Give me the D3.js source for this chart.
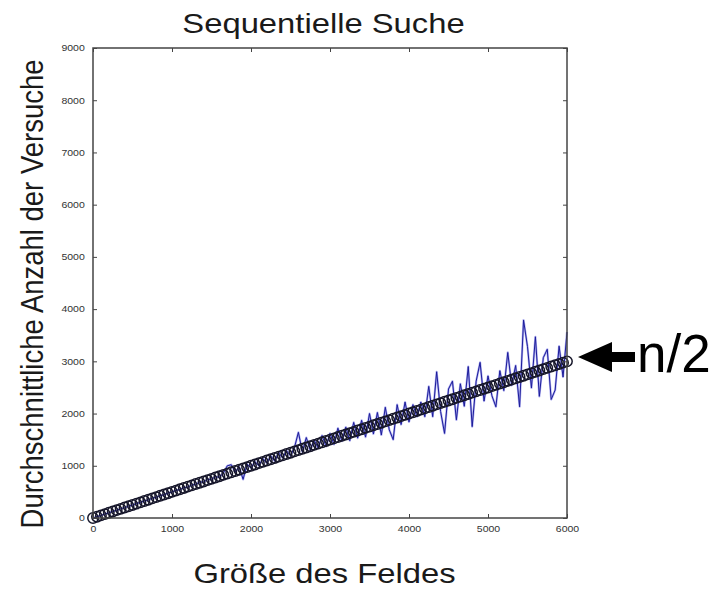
<!DOCTYPE html>
<html>
<head>
<meta charset="utf-8">
<script src="https://cdn.jsdelivr.net/npm/d3@7/dist/d3.min.js"></script>
<style>
  html, body { margin: 0; padding: 0; background: #fff; }
  svg { display: block; }
  text { font-family: "Liberation Sans", Arial, Helvetica, sans-serif; }
</style>
</head>
<body>
<svg id="chart" width="721" height="590"></svg>
<script>
// ---- data ----
const chartTitle = "Sequentielle Suche";
const xLabel = "Größe des Feldes";
const yLabel = "Durchschnittliche Anzahl der Versuche";
const annotation = "n/2";

const xTicks = [0, 1000, 2000, 3000, 4000, 5000, 6000];
const yTicks = [0, 1000, 2000, 3000, 4000, 5000, 6000, 7000, 8000, 9000];

// field sizes (n)
const sizes = [
  0, 50, 100, 150, 200, 250, 300, 350, 400, 450,
  500, 550, 600, 650, 700, 750, 800, 850, 900, 950,
  1000, 1050, 1100, 1150, 1200, 1250, 1300, 1350, 1400, 1450,
  1500, 1550, 1600, 1650, 1700, 1750, 1800, 1850, 1900, 1950,
  2000, 2050, 2100, 2150, 2200, 2250, 2300, 2350, 2400, 2450,
  2500, 2550, 2600, 2650, 2700, 2750, 2800, 2850, 2900, 2950,
  3000, 3050, 3100, 3150, 3200, 3250, 3300, 3350, 3400, 3450,
  3500, 3550, 3600, 3650, 3700, 3750, 3800, 3850, 3900, 3950,
  4000, 4050, 4100, 4150, 4200, 4250, 4300, 4350, 4400, 4450,
  4500, 4550, 4600, 4650, 4700, 4750, 4800, 4850, 4900, 4950,
  5000, 5050, 5100, 5150, 5200, 5250, 5300, 5350, 5400, 5450,
  5500, 5550, 5600, 5650, 5700, 5750, 5800, 5850, 5900, 5950,
  6000
];

// measured average number of attempts (blue line)
const avgTries = [
  1, 27, 48, 78, 98, 128, 147, 178, 196, 228,
  246, 279, 297, 328, 345, 380, 396, 430, 443, 480,
  497, 531, 542, 583, 590, 632, 645, 688, 690, 738,
  743, 790, 780, 860, 1000, 1020, 880, 980, 740, 1030,
  960, 1080, 1000, 1140, 1050, 1190, 1090, 1250, 1150, 1290,
  1190, 1350, 1640, 1270, 1540, 1300, 1490, 1340, 1580, 1370,
  1620, 1410, 1720, 1470, 1740, 1480, 1830, 1530, 1870, 1550,
  2000, 1610, 2020, 1590, 2120, 1690, 1500, 2170, 1790, 2220,
  1840, 2170, 1940, 2220, 1940, 2520, 1940, 2800, 2040, 1620,
  2470, 2620, 1880, 2570, 2140, 2900, 1750, 2620, 2980, 2240,
  2720, 2340, 2130, 2820, 2440, 3170, 2540, 2920, 2130, 3790,
  3280, 2490, 3470, 2330, 3070, 3230, 2270, 2450, 3290, 2700,
  3560
];

// reference line n/2 (drawn as open circle markers)
const halfN = [
  0, 25, 50, 75, 100, 125, 150, 175, 200, 225,
  250, 275, 300, 325, 350, 375, 400, 425, 450, 475,
  500, 525, 550, 575, 600, 625, 650, 675, 700, 725,
  750, 775, 800, 825, 850, 875, 900, 925, 950, 975,
  1000, 1025, 1050, 1075, 1100, 1125, 1150, 1175, 1200, 1225,
  1250, 1275, 1300, 1325, 1350, 1375, 1400, 1425, 1450, 1475,
  1500, 1525, 1550, 1575, 1600, 1625, 1650, 1675, 1700, 1725,
  1750, 1775, 1800, 1825, 1850, 1875, 1900, 1925, 1950, 1975,
  2000, 2025, 2050, 2075, 2100, 2125, 2150, 2175, 2200, 2225,
  2250, 2275, 2300, 2325, 2350, 2375, 2400, 2425, 2450, 2475,
  2500, 2525, 2550, 2575, 2600, 2625, 2650, 2675, 2700, 2725,
  2750, 2775, 2800, 2825, 2850, 2875, 2900, 2925, 2950, 2975,
  3000
];

// ---- layout ----
const plot = { left: 93, top: 48, right: 567, bottom: 518 };
const SX = 1.17; // horizontal stretch of the original picture

const svg = d3.select("#chart");

const x = d3.scaleLinear().domain([0, 6000]).range([plot.left, plot.right]);
const y = d3.scaleLinear().domain([0, 9000]).range([plot.bottom, plot.top]);

// blue measured line
const line = d3.line().x(d => x(d[0])).y(d => y(d[1]));
const blueData = sizes.map((n, i) => [n, avgTries[i]]);
svg.append("path")
  .datum(blueData)
  .attr("d", line)
  .attr("fill", "none")
  .attr("stroke", "#7a7ae6")
  .attr("stroke-width", 2.2)
  .attr("stroke-opacity", 0.6)
  .attr("stroke-linejoin", "round");
svg.append("path")
  .datum(blueData)
  .attr("d", line)
  .attr("fill", "none")
  .attr("stroke", "#1c1c9a")
  .attr("stroke-width", 1)
  .attr("stroke-linejoin", "round");

// n/2 markers
svg.append("g")
  .selectAll("circle")
  .data(sizes.map((n, i) => [n, halfN[i]]))
  .join("circle")
  .attr("cx", d => x(d[0]))
  .attr("cy", d => y(d[1]))
  .attr("r", 5.2)
  .attr("fill", "none")
  .attr("stroke", "#16162a")
  .attr("stroke-width", 1.5);

// axes (inward ticks, all sides)
function styleAxis(g) {
  g.select(".domain").remove();
  g.selectAll(".tick line").attr("stroke", "#444").attr("stroke-width", 1);
  g.selectAll(".tick text")
    .attr("fill", "#333")
    .style("font-size", "9px");
}

const gx = svg.append("g")
  .attr("transform", `translate(0,${plot.bottom})`)
  .call(d3.axisBottom(x).tickValues(xTicks).tickSize(-4).tickPadding(8).tickFormat(d3.format("d")));
styleAxis(gx);
gx.selectAll(".tick text").attr("transform", `scale(${SX},1)`);

const gy = svg.append("g")
  .attr("transform", `translate(${plot.left},0)`)
  .call(d3.axisLeft(y).tickValues(yTicks).tickSize(-4).tickPadding(7).tickFormat(d3.format("d")));
styleAxis(gy);
gy.selectAll(".tick text").attr("transform", `scale(${SX},1)`);

const gt = svg.append("g")
  .attr("transform", `translate(0,${plot.top})`)
  .call(d3.axisTop(x).tickValues(xTicks).tickSize(-4).tickFormat(""));
styleAxis(gt);

const gr = svg.append("g")
  .attr("transform", `translate(${plot.right},0)`)
  .call(d3.axisRight(y).tickValues(yTicks).tickSize(-4).tickFormat(""));
styleAxis(gr);

// frame
svg.append("rect")
  .attr("x", plot.left).attr("y", plot.top)
  .attr("width", plot.right - plot.left).attr("height", plot.bottom - plot.top)
  .attr("fill", "none").attr("stroke", "#444").attr("stroke-width", 1.5);

// title
svg.append("text")
  .attr("transform", `translate(323.5,33) scale(${SX},1)`)
  .attr("text-anchor", "middle")
  .style("font-size", "28px")
  .attr("fill", "#1a1a1a")
  .text(chartTitle);

// x label
svg.append("text")
  .attr("transform", `translate(324.5,583) scale(${SX},1)`)
  .attr("text-anchor", "middle")
  .style("font-size", "28px")
  .attr("fill", "#1a1a1a")
  .text(xLabel);

// y label
svg.append("text")
  .attr("transform", `translate(43,294) scale(${SX},1) rotate(-90)`)
  .attr("text-anchor", "middle")
  .style("font-size", "27.5px")
  .attr("fill", "#1a1a1a")
  .text(yLabel);

// arrow annotation
const ay = 357;
svg.append("path")
  .attr("d", `M578,${ay} L612,${ay - 15} L612,${ay - 5} L635,${ay - 5} L635,${ay + 5} L612,${ay + 5} L612,${ay + 15} Z`)
  .attr("fill", "#000");

svg.append("text")
  .attr("x", 637).attr("y", 372)
  .style("font-size", "53px")
  .attr("fill", "#000")
  .text(annotation);
</script>
</body>
</html>
